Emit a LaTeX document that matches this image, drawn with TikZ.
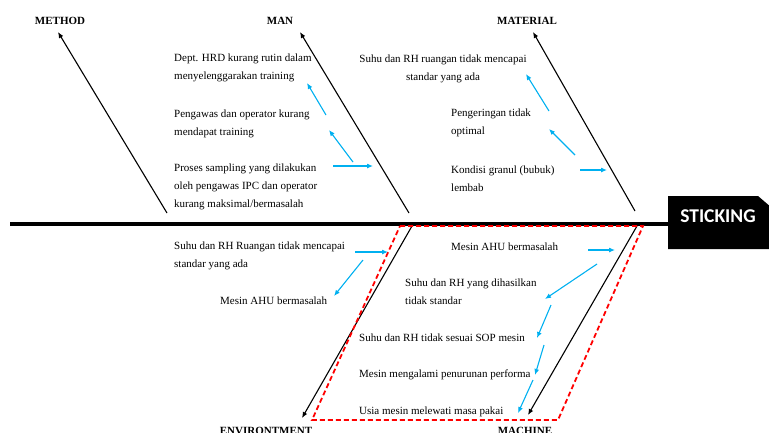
\documentclass[tikz,border=0pt]{standalone}
\usepackage{fontspec}
\setmainfont{Liberation Serif}
\newfontfamily\tagfont{Carlito}
\usepackage{xcolor}
\usetikzlibrary{arrows.meta}
\usetikzlibrary{calc}
\definecolor{causeblue}{RGB}{0,176,240}
\definecolor{boxred}{RGB}{255,0,0}
\tikzset{
  bone/.style={draw=black, line width=1.1pt, -{Latex[length=6pt,width=5pt]}},
  subcause/.style={draw=causeblue, line width=1.1pt, -{Latex[length=6pt,width=5pt]}},
  cause/.style={font=\fontsize{11}{18}\selectfont, align=left, inner sep=0pt, anchor=west},
  head/.style={font=\fontsize{11}{13}\selectfont\bfseries, inner sep=0pt},
  effecttag/.style={font=\tagfont\fontsize{19.5}{22}\selectfont\bfseries, text=white, inner sep=0pt},
}
\begin{document}
\begin{tikzpicture}[x=1pt,y=-1pt]
        \newcommand{\fishspiney}{224}
        \newcommand{\fishtagleft}{668}
        \newcommand{\fishtagtop}{196}
        \newcommand{\fishtagbottom}{249}
        \newcommand{\fishboxtop}{226}
        \newcommand{\fishboxbottom}{420}
        \useasboundingbox (0,0) rectangle (769,432);
        % effect and spine
        \fill (\fishtagleft,\fishtagtop) -- (758,\fishtagtop) -- (772,208) -- (772,\fishtagbottom) -- (\fishtagleft,\fishtagbottom) -- cycle;
        \node[effecttag] (effect) at (718,216) {STICKING};
        \coordinate (spinewest) at (10,\fishspiney);
        \coordinate (spineeast) at (\fishtagleft,\fishspiney);
        \draw[line width=4pt] (spinewest) -- (spineeast);
        % bone heads
        \node[head] (method) at (60,21) {METHOD};
        \node[head] (man) at (280,21) {MAN};
        \node[head] (material) at (527,21) {MATERIAL};
        \node[head] (environment) at (266,431) {ENVIRONTMENT};
        \node[head] (machine) at (525,431) {MACHINE};
        % bones
        \coordinate (methodtail) at (167,213);
        \coordinate (methodtip) at (58,32);
        \coordinate (mantail) at (409,213);
        \coordinate (mantip) at (300,32);
        \coordinate (materialtail) at (635,211);
        \coordinate (materialtip) at (533,32);
        \coordinate (environmenttail) at (412,226);
        \coordinate (environmenttip) at (302,418);
        \coordinate (machinetail) at (637,226);
        \coordinate (machinetip) at (528,415);
        \draw[bone] (methodtail) -- (methodtip);
        \draw[bone] (mantail) -- (mantip);
        \draw[bone] (materialtail) -- (materialtip);
        \draw[bone] (environmenttail) -- (environmenttip);
        \draw[bone] (machinetail) -- (machinetip);
        % highlight of the lower bones
        \draw[boxred, line width=1.8pt, dash pattern=on 5pt off 3pt] (400,\fishboxtop) -- (643,\fishboxtop) -- (558,\fishboxbottom) -- (312,\fishboxbottom) -- cycle;
        % man causes
        \node[cause] (manA) at (174,68) {Dept. HRD kurang rutin dalam\\menyelenggarakan training};
        \node[cause] (manB) at (174,124) {Pengawas dan operator kurang\\mendapat training};
        \node[cause] (manC) at (174,187) {Proses sampling yang dilakukan\\oleh pengawas IPC dan operator\\kurang maksimal/bermasalah};
        \coordinate (manCa) at (333,166);
        \coordinate (manCb) at (373,166);
        \coordinate (manBa) at (353,162);
        \coordinate (manBb) at (329,130);
        \coordinate (manAa) at (326,115);
        \coordinate (manAb) at (307,83);
        \draw[subcause] (manCa) -- (manCb);
        \draw[subcause] (manBa) -- (manBb);
        \draw[subcause] (manAa) -- (manAb);
        % material causes
        \node[cause, anchor=center, align=center] (materialA) at (443,69) {Suhu dan RH ruangan tidak mencapai\\standar yang ada};
        \node[cause] (materialB) at (451,123) {Pengeringan tidak\\optimal};
        \node[cause] (materialC) at (451,179) {Kondisi granul (bubuk)\\lembab};
        \coordinate (materialCa) at (580,170);
        \coordinate (materialCb) at (607,170);
        \coordinate (materialBa) at (575,155);
        \coordinate (materialBb) at (549,129);
        \coordinate (materialAa) at (549,111);
        \coordinate (materialAb) at (526,74);
        \draw[subcause] (materialCa) -- (materialCb);
        \draw[subcause] (materialBa) -- (materialBb);
        \draw[subcause] (materialAa) -- (materialAb);
        % environment causes
        \node[cause] (environmentA) at (174,256) {Suhu dan RH Ruangan tidak mencapai\\standar yang ada};
        \node[cause] (environmentB) at (220,301) {Mesin AHU bermasalah};
        \coordinate (environmentAa) at (355,252);
        \coordinate (environmentAb) at (388,252);
        \coordinate (environmentBa) at (363,260);
        \coordinate (environmentBb) at (334,296);
        \draw[subcause] (environmentAa) -- (environmentAb);
        \draw[subcause] (environmentBa) -- (environmentBb);
        % machine causes
        \node[cause] (machineA) at (451,247) {Mesin AHU bermasalah};
        \node[cause] (machineB) at (405,292) {Suhu dan RH yang dihasilkan\\tidak standar};
        \node[cause] (machineC) at (359,338) {Suhu dan RH tidak sesuai SOP mesin};
        \node[cause] (machineD) at (359,375) {Mesin mengalami penurunan performa};
        \node[cause] (machineE) at (359,412) {Usia mesin melewati masa pakai};
        \coordinate (machineAa) at (588,250);
        \coordinate (machineAb) at (615,250);
        \coordinate (machineBa) at (597,264);
        \coordinate (machineBb) at (545,299);
        \coordinate (machineCa) at (551,305);
        \coordinate (machineCb) at (537,338);
        \coordinate (machineDa) at (544,345);
        \coordinate (machineDb) at (535,375);
        \coordinate (machineEa) at (533,380);
        \coordinate (machineEb) at (518,413);
        \draw[subcause] (machineAa) -- (machineAb);
        \draw[subcause] (machineBa) -- (machineBb);
        \draw[subcause] (machineCa) -- (machineCb);
        \draw[subcause] (machineDa) -- (machineDb);
        \draw[subcause] (machineEa) -- (machineEb);
    \end{tikzpicture}
\end{document}
